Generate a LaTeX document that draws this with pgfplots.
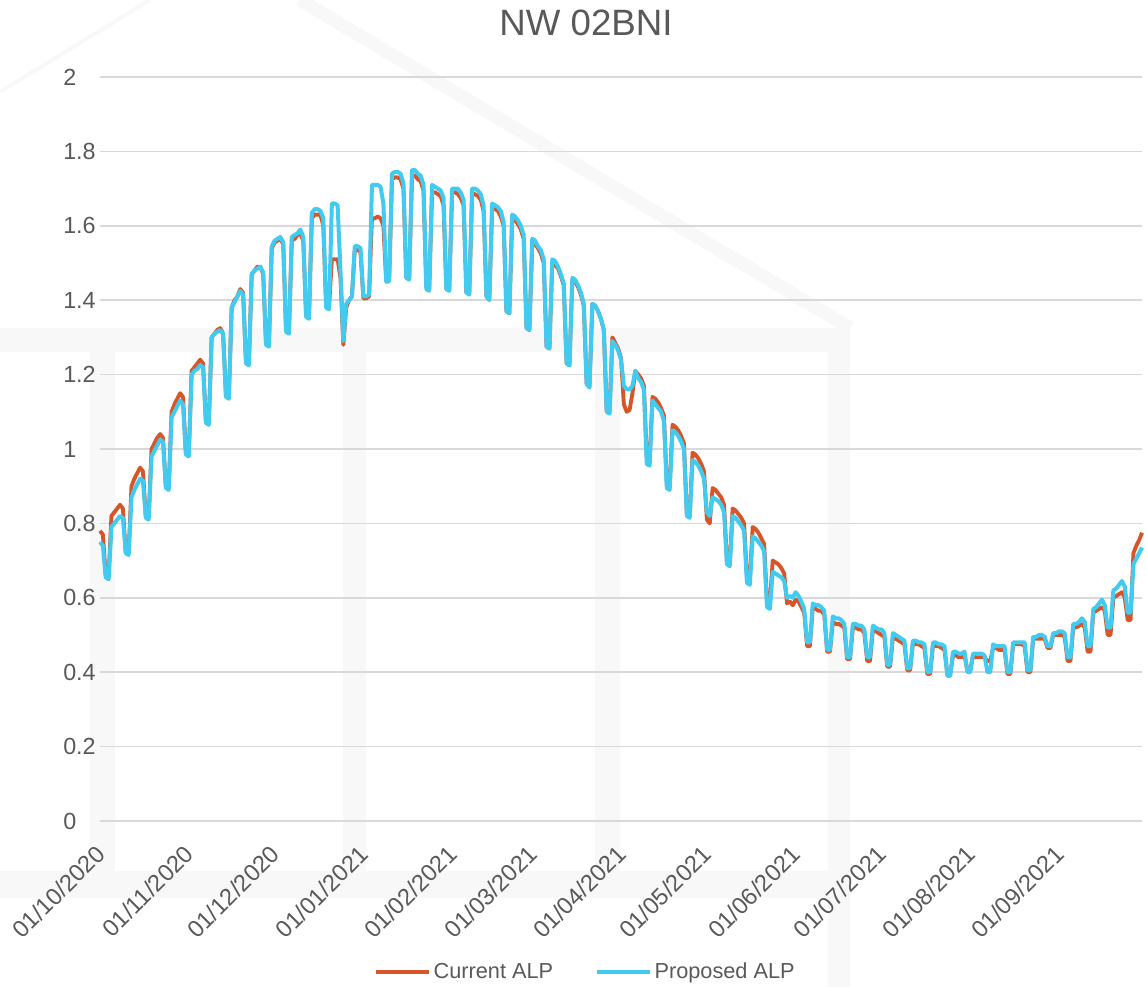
\documentclass[border=0pt]{standalone}
\usepackage{pgfplots}
\pgfplotsset{compat=1.18}
\usepackage{pgfplotstable}
\usepackage{fontspec}
\setmainfont{Liberation Sans}
\definecolor{curc}{RGB}{214,86,42}
\definecolor{proc}{RGB}{66,203,240}
\definecolor{gridc}{RGB}{217,217,217}
\definecolor{txtc}{RGB}{89,89,89}
\definecolor{wmk}{RGB}{248,248,248}
\pgfplotstableread{
d c p
0 0.78 0.75
1 0.77 0.74
2 0.66 0.655
3 0.655 0.65
4 0.82 0.79
5 0.83 0.80
6 0.84 0.81
7 0.85 0.82
8 0.84 0.815
9 0.72 0.72
10 0.72 0.715
11 0.90 0.87
12 0.92 0.89
13 0.935 0.905
14 0.95 0.92
15 0.94 0.915
16 0.82 0.815
17 0.815 0.81
18 1.00 0.98
19 1.015 0.995
20 1.03 1.01
21 1.04 1.025
22 1.03 1.02
23 0.90 0.895
24 0.895 0.89
25 1.10 1.085
26 1.12 1.10
27 1.135 1.115
28 1.15 1.13
29 1.14 1.12
30 0.99 0.985
31 0.985 0.98
32 1.21 1.20
33 1.22 1.21
34 1.23 1.215
35 1.24 1.225
36 1.23 1.22
37 1.075 1.07
38 1.07 1.065
39 1.30 1.30
40 1.31 1.31
41 1.32 1.315
42 1.325 1.32
43 1.31 1.31
44 1.145 1.14
45 1.14 1.135
46 1.38 1.38
47 1.40 1.395
48 1.41 1.41
49 1.43 1.425
50 1.42 1.415
51 1.235 1.23
52 1.23 1.225
53 1.47 1.47
54 1.48 1.48
55 1.49 1.485
56 1.49 1.49
57 1.47 1.475
58 1.285 1.28
59 1.28 1.275
60 1.54 1.545
61 1.555 1.56
62 1.56 1.565
63 1.565 1.57
64 1.55 1.555
65 1.32 1.315
66 1.315 1.31
67 1.56 1.57
68 1.565 1.575
69 1.575 1.58
70 1.58 1.59
71 1.56 1.57
72 1.36 1.355
73 1.355 1.35
74 1.62 1.635
75 1.63 1.645
76 1.63 1.645
77 1.63 1.64
78 1.60 1.62
79 1.385 1.38
80 1.38 1.375
81 1.51 1.66
82 1.51 1.66
83 1.51 1.655
84 1.46 1.48
85 1.28 1.29
86 1.38 1.39
87 1.40 1.40
88 1.41 1.41
89 1.535 1.545
90 1.535 1.545
91 1.53 1.54
92 1.405 1.41
93 1.405 1.41
94 1.41 1.415
95 1.62 1.71
96 1.62 1.71
97 1.625 1.71
98 1.62 1.705
99 1.60 1.66
100 1.45 1.45
101 1.455 1.45
102 1.725 1.74
103 1.73 1.745
104 1.73 1.745
105 1.725 1.74
106 1.70 1.715
107 1.46 1.46
108 1.46 1.455
109 1.735 1.75
110 1.735 1.75
111 1.725 1.74
112 1.72 1.735
113 1.695 1.71
114 1.435 1.43
115 1.43 1.425
116 1.69 1.71
117 1.69 1.705
118 1.685 1.70
119 1.68 1.695
120 1.655 1.675
121 1.43 1.43
122 1.43 1.425
123 1.69 1.70
124 1.69 1.70
125 1.685 1.70
126 1.675 1.69
127 1.655 1.67
128 1.42 1.42
129 1.42 1.415
130 1.685 1.70
131 1.685 1.70
132 1.68 1.695
133 1.67 1.685
134 1.64 1.655
135 1.41 1.41
136 1.405 1.40
137 1.65 1.66
138 1.645 1.655
139 1.64 1.65
140 1.625 1.64
141 1.60 1.61
142 1.37 1.37
143 1.365 1.365
144 1.62 1.63
145 1.615 1.625
146 1.605 1.615
147 1.59 1.60
148 1.565 1.575
149 1.325 1.325
150 1.32 1.32
151 1.555 1.565
152 1.55 1.56
153 1.54 1.545
154 1.525 1.535
155 1.50 1.51
156 1.275 1.275
157 1.27 1.27
158 1.50 1.51
159 1.495 1.505
160 1.485 1.49
161 1.465 1.47
162 1.44 1.445
163 1.23 1.23
164 1.225 1.225
165 1.455 1.46
166 1.45 1.455
167 1.435 1.44
168 1.415 1.42
169 1.385 1.39
170 1.175 1.175
171 1.17 1.165
172 1.39 1.39
173 1.385 1.385
174 1.37 1.37
175 1.35 1.35
176 1.32 1.32
177 1.105 1.10
178 1.10 1.095
179 1.30 1.29
180 1.285 1.28
181 1.27 1.265
182 1.245 1.24
183 1.12 1.17
184 1.10 1.16
185 1.105 1.16
186 1.15 1.17
187 1.21 1.21
188 1.20 1.19
189 1.19 1.18
190 1.17 1.16
191 0.975 0.96
192 0.97 0.955
193 1.14 1.13
194 1.135 1.12
195 1.125 1.11
196 1.11 1.10
197 1.09 1.075
198 0.905 0.895
199 0.90 0.89
200 1.065 1.05
201 1.06 1.045
202 1.05 1.035
203 1.035 1.02
204 1.015 1.00
205 0.825 0.82
206 0.82 0.815
207 0.99 0.97
208 0.985 0.965
209 0.975 0.955
210 0.96 0.94
211 0.94 0.92
212 0.81 0.83
213 0.80 0.82
214 0.895 0.87
215 0.89 0.865
216 0.88 0.86
217 0.87 0.85
218 0.85 0.83
219 0.70 0.69
220 0.695 0.685
221 0.84 0.82
222 0.835 0.815
223 0.825 0.805
224 0.815 0.795
225 0.80 0.78
226 0.655 0.64
227 0.65 0.635
228 0.79 0.765
229 0.785 0.76
230 0.775 0.75
231 0.76 0.74
232 0.745 0.725
233 0.59 0.575
234 0.585 0.57
235 0.70 0.67
236 0.695 0.665
237 0.69 0.66
238 0.68 0.655
239 0.665 0.645
240 0.585 0.60
241 0.59 0.605
242 0.58 0.60
243 0.595 0.615
244 0.59 0.605
245 0.575 0.59
246 0.56 0.57
247 0.47 0.48
248 0.47 0.48
249 0.575 0.585
250 0.57 0.58
251 0.565 0.58
252 0.565 0.575
253 0.555 0.565
254 0.455 0.46
255 0.455 0.46
256 0.535 0.55
257 0.53 0.545
258 0.53 0.545
259 0.525 0.54
260 0.52 0.53
261 0.435 0.44
262 0.435 0.44
263 0.52 0.53
264 0.52 0.53
265 0.515 0.525
266 0.515 0.525
267 0.505 0.515
268 0.43 0.44
269 0.43 0.44
270 0.515 0.525
271 0.51 0.52
272 0.505 0.515
273 0.50 0.515
274 0.495 0.505
275 0.415 0.42
276 0.415 0.42
277 0.495 0.505
278 0.49 0.50
279 0.485 0.495
280 0.48 0.49
281 0.475 0.485
282 0.405 0.41
283 0.405 0.41
284 0.48 0.485
285 0.475 0.485
286 0.475 0.48
287 0.47 0.48
288 0.465 0.475
289 0.395 0.40
290 0.395 0.40
291 0.475 0.48
292 0.47 0.48
293 0.47 0.475
294 0.465 0.475
295 0.46 0.47
296 0.395 0.39
297 0.395 0.39
298 0.445 0.455
299 0.445 0.455
300 0.44 0.45
301 0.44 0.45
302 0.445 0.455
303 0.405 0.40
304 0.405 0.40
305 0.445 0.45
306 0.44 0.45
307 0.44 0.45
308 0.44 0.45
309 0.44 0.445
310 0.43 0.40
311 0.43 0.40
312 0.465 0.475
313 0.465 0.47
314 0.46 0.47
315 0.46 0.47
316 0.46 0.47
317 0.395 0.40
318 0.395 0.40
319 0.475 0.48
320 0.475 0.48
321 0.475 0.48
322 0.475 0.48
323 0.47 0.48
324 0.40 0.405
325 0.40 0.405
326 0.49 0.495
327 0.49 0.495
328 0.49 0.50
329 0.49 0.50
330 0.49 0.495
331 0.465 0.47
332 0.465 0.47
333 0.50 0.505
334 0.50 0.505
335 0.50 0.51
336 0.50 0.51
337 0.495 0.505
338 0.43 0.44
339 0.43 0.44
340 0.52 0.53
341 0.52 0.53
342 0.525 0.535
343 0.53 0.545
344 0.52 0.535
345 0.455 0.47
346 0.455 0.47
347 0.56 0.57
348 0.565 0.575
349 0.57 0.585
350 0.575 0.595
351 0.565 0.58
352 0.50 0.52
353 0.50 0.52
354 0.60 0.62
355 0.605 0.625
356 0.61 0.635
357 0.615 0.645
358 0.60 0.63
359 0.54 0.56
360 0.54 0.56
361 0.72 0.69
362 0.74 0.705
363 0.755 0.72
364 0.775 0.735
}\data
\begin{document}
\begin{tikzpicture}
% faint watermark behind the chart (pixel coordinates from top-left)
\begin{scope}[x=0.75pt, y=-0.75pt, shift={(0pt,740.25pt)}]
  \fill[wmk] (0,328) rectangle (850,352);
  \fill[wmk] (0,871) rectangle (850,898);
  \fill[wmk] (90,352) rectangle (115,871);
  \fill[wmk] (343,352) rectangle (366,871);
  \fill[wmk] (595,352) rectangle (620,871);
  \fill[wmk] (828,328) rectangle (850,987);
  \draw[wmk, line width=10pt] (300,0) -- (850,328);
  \draw[wmk, line width=3pt] (0,92) -- (150,0);
\end{scope}
\begin{axis}[
  at={(75pt,124.5pt)}, anchor=south west,
  scale only axis, width=781.5pt, height=558pt,
  xmin=0, xmax=364, ymin=0, ymax=2,
  axis line style={draw=none},
  tick style={draw=none},
  ymajorgrids, grid style={gridc, line width=1.1pt},
  ytick={0,0.2,...,2.01},
  yticklabel style={font=\fontsize{17.5}{19}\selectfont, text=txtc, anchor=west, inner sep=0pt, xshift=-27.75pt, /pgf/number format/fixed, /pgf/number format/precision=1},
  /pgf/number format/assume math mode=true,
  xtick={0,31,61,92,123,151,182,212,243,273,304,335},
  xticklabels={01/10/2020,01/11/2020,01/12/2020,01/01/2021,01/02/2021,01/03/2021,01/04/2021,01/05/2021,01/06/2021,01/07/2021,01/08/2021,01/09/2021},
  xticklabel style={font=\fontsize{17.8}{20}\selectfont, text=txtc, rotate=45, anchor=east, xshift=-11.5pt, yshift=-15.5pt},
  legend style={at={(0.466,-0.203)}, anchor=center, draw=none, fill=none, legend columns=2,
    font=\fontsize{16.3}{18}\selectfont, text=txtc,
    /tikz/every even column/.append style={column sep=29pt}},
  legend image code/.code={\draw[#1] (0pt,0pt) -- (40pt,0pt);},
  clip=false,
]
\addplot[curc, line width=2.9pt, line join=round] table[x=d, y=c] {\data};
\addlegendentry{Current ALP}
\addplot[proc, line width=3pt, line join=round] table[x=d, y=p] {\data};
\addlegendentry{Proposed ALP}
\end{axis}
\node[font=\fontsize{27.5}{30}\selectfont, text=txtc] at (439.5pt,723pt) {NW 02BNI};
\pgfresetboundingbox
\path[use as bounding box] (0,0) rectangle (860.25pt,740.25pt);
\end{tikzpicture}
\end{document}
